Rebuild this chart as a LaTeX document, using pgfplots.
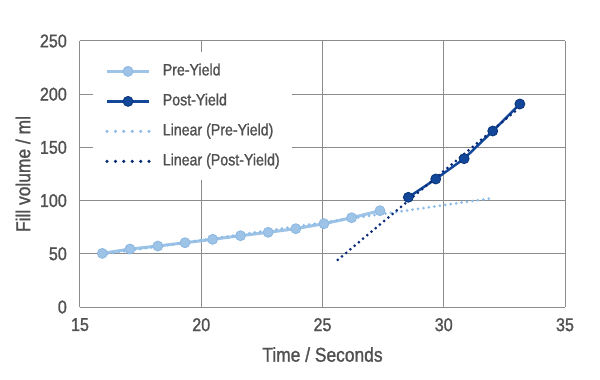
\documentclass[border=0pt]{standalone}
\usepackage{fontspec}
\setmainfont{Liberation Sans}[FakeStretch=0.87, FakeBold=1.2]
\usepackage{pgfplots}
\pgfplotsset{compat=1.18}
\definecolor{txt}{HTML}{505050}
\definecolor{gridc}{HTML}{8C8C8C}
\definecolor{prec}{HTML}{9DC3E6}
\definecolor{preedge}{HTML}{8CB8E2}
\definecolor{postc}{HTML}{12479A}
\definecolor{postedge}{HTML}{0A3478}
\definecolor{pretr}{HTML}{8DBDE8}
\definecolor{posttr}{HTML}{0A2A78}
\begin{document}
\begin{tikzpicture}
\useasboundingbox (-80pt,-73pt) rectangle (520pt,307pt);
\begin{axis}[
  at={(0,0)}, anchor=south west,
  scale only axis, width=485pt, height=266pt,
  xmin=15, xmax=35, ymin=0, ymax=250,
  xtick={15,20,...,35}, ytick={0,50,...,250},
  axis x line*=bottom, axis y line*=left,
  axis line style={draw=gridc, line width=1pt, -},
  grid=major, major grid style={draw=gridc, line width=1pt},
  tick style={draw=none},
  /pgf/number format/assume math mode=true,
  ticklabel style={font=\fontsize{18.5}{20}\selectfont, text=txt, inner sep=0pt},
  yticklabel style={xshift=-13pt},
  xticklabel style={yshift=-11pt},
  xlabel={Time / Seconds}, ylabel={Fill volume / ml},
  label style={font=\fontsize{20}{22}\selectfont, text=txt},
  xlabel style={at={(axis description cs:0.5,-0.2056)}, anchor=base},
  ylabel style={at={(axis description cs:-0.1175,0.5)}, anchor=center, rotate=0},
  legend cell align=left,
  legend image code/.code={\draw[mark repeat=2,mark phase=2] plot coordinates {(0pt,0pt) (21pt,0pt) (42pt,0pt)};},
  legend style={at={(axis cs:15.54,239.5)}, anchor=north west, fill=white, draw=none,
    inner xsep=12pt, inner ysep=11pt, row sep=14pt, column sep=0pt,
    font=\fontsize{16.3}{18}\selectfont, text=txt,
    nodes={inner sep=0pt, text height=12pt, text depth=4pt, xshift=0pt}},
  clip=false,
]
\addplot[color=prec, line width=3pt, mark=*, mark size=5pt, mark options={fill=prec, draw=preedge, line width=0.8pt}]
 coordinates {(15.92,50.4) (17.06,54.5) (18.21,57.3) (19.33,60.4) (20.47,63.6) (21.62,67.0) (22.76,70.2) (23.90,73.6) (25.06,78.3) (26.20,83.9) (27.37,90.5)};
\addlegendentry{\hspace{12pt}Pre-Yield}
\addplot[color=postc, line width=2.5pt, mark=*, mark size=5pt, mark options={fill=postc, draw=postedge, line width=0.8pt}]
 coordinates {(28.54,103.1) (29.67,120.3) (30.84,139.4) (32.02,165.4) (33.14,190.8)};
\addlegendentry{\hspace{12pt}Post-Yield}
\addplot[color=pretr, line width=3pt, line cap=round, dash pattern=on 0pt off 5.5pt,
  legend image post style={line width=3.5pt, dash pattern=on 0pt off 8.4pt}]
 coordinates {(15.92,49.4) (32.0,102.3)};
\addlegendentry{\hspace{12pt}Linear (Pre-Yield)}
\addplot[color=posttr, line width=3pt, line cap=round, dash pattern=on 0pt off 5.5pt,
  legend image post style={line width=3.5pt, dash pattern=on 0pt off 8.4pt}]
 coordinates {(25.63,44.3) (33.14,187.7)};
\addlegendentry{\hspace{12pt}Linear (Post-Yield)}
\end{axis}
\end{tikzpicture}
\end{document}
